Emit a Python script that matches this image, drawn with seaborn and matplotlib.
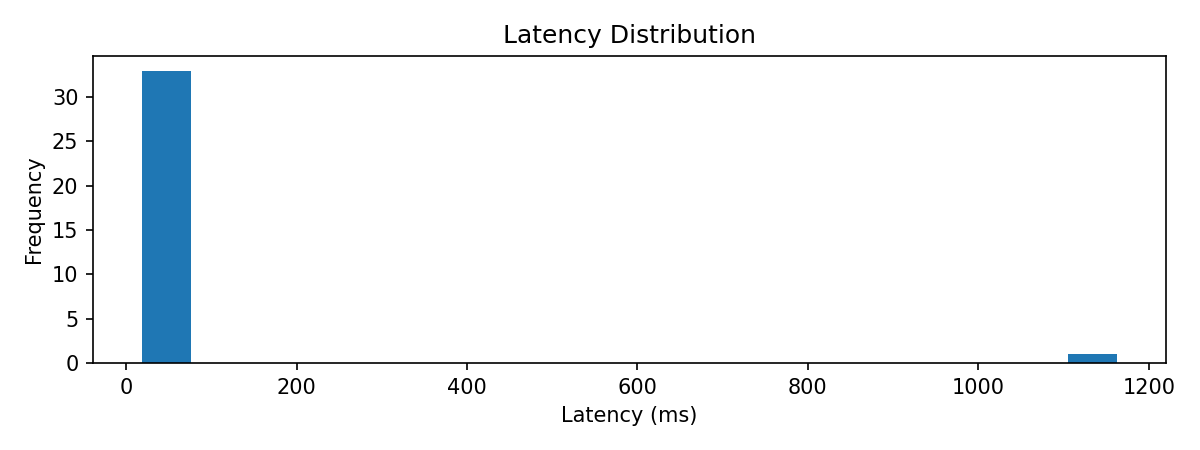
import matplotlib
matplotlib.use("Agg")
import matplotlib.pyplot as plt
import seaborn as sns

# Latency samples (ms): 33 fast requests plus one slow outlier
latencies_ms = [
    18.3, 22.1, 25.4, 27.8, 29.0, 31.2, 32.5, 33.9, 35.1, 36.4, 37.7,
    38.2, 39.6, 40.8, 41.5, 42.3, 43.7, 44.9, 45.6, 46.8, 47.2, 48.5,
    49.9, 51.3, 52.6, 54.0, 55.8, 57.4, 59.1, 61.5, 64.2, 68.7, 72.9,
    1163.0,
]
n_bins = 20

fig, ax = plt.subplots(figsize=(8, 3), dpi=150)
sns.histplot(x=latencies_ms, bins=n_bins, ax=ax, color="#1f77b4",
             alpha=1.0, linewidth=0, stat="count")
ax.set_title("Latency Distribution")
ax.set_xlabel("Latency (ms)")
ax.set_ylabel("Frequency")
ax.margins(x=0.05, y=0.05)

fig.subplots_adjust(left=0.0775, right=0.9717, top=0.8756, bottom=0.1933)
plt.savefig("out.png")
